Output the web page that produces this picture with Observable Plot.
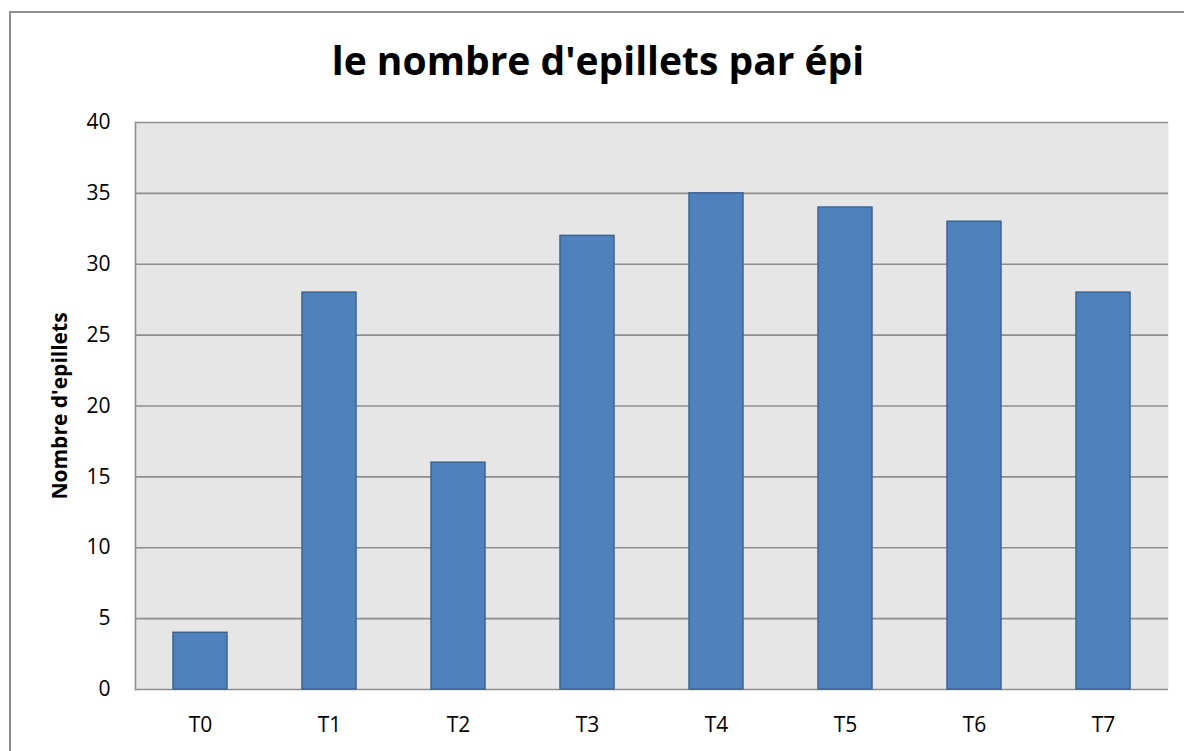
<!DOCTYPE html>
<html>
<head>
<meta charset="utf-8">
<script src="https://cdn.jsdelivr.net/npm/d3@7"></script>
<script src="https://cdn.jsdelivr.net/npm/@observablehq/plot@0.6"></script>
<style>
  html, body { margin: 0; padding: 0; background: #fff; overflow: hidden; }
  #wrap { position: relative; width: 1184px; height: 751px; overflow: hidden; }
  #border { position: absolute; left: 9px; top: 11px; width: 1200px; height: 800px;
            border: 2px solid #8e8e8e; box-sizing: border-box; }
  #title { position: absolute; left: 0; top: 40px; width: 1196px; text-align: center;
           font-family: "Open Sans", sans-serif; font-weight: bold; font-size: 39px;
           line-height: 39px; color: #000; }
  #chart { position: absolute; left: 0; top: 100px; }
</style>
</head>
<body>
<div id="wrap">
  <div id="border"></div>
  <div id="title">le nombre d'epillets par épi</div>
  <div id="chart"></div>
</div>
<script>
const categories = ["T0", "T1", "T2", "T3", "T4", "T5", "T6", "T7"];
const values = [4, 28, 16, 32, 35, 34, 33, 28];
const yTicks = [0, 5, 10, 15, 20, 25, 30, 35, 40];
const yLabel = "Nombre d'epillets";

const data = categories.map((c, i) => ({ cat: c, value: values[i] }));

const chart = Plot.plot({
  width: 1184,
  height: 651,
  marginTop: 22,
  marginLeft: 135,
  marginRight: 16,
  marginBottom: 62,
  style: { fontFamily: "Open Sans, sans-serif", fontSize: "21px", color: "#000", background: "transparent" },
  x: { domain: categories, paddingInner: 0.58, paddingOuter: 0.29, label: null },
  y: { domain: [0, 40], label: null },
  marks: [
    Plot.frame({ fill: "#e6e6e6", stroke: null }),
    Plot.ruleY(yTicks, { stroke: "#8e8e8e", strokeWidth: 1.6 }),
    Plot.frame({ anchor: "left", stroke: "#8e8e8e", strokeWidth: 1.6 }),
    Plot.barY(data, { x: "cat", y: "value", fill: "#4f81bd", stroke: "#3b6494", strokeWidth: 1.5 }),
    Plot.axisY({ ticks: yTicks, tickSize: 0, tickPadding: 25, label: null, fontSize: 21 }),
    Plot.axisX({ tickSize: 0, tickPadding: 28, label: null, fontSize: 21 }),
    Plot.text([yLabel], {
      frameAnchor: "left", textAnchor: "middle", dx: -75, rotate: -90,
      fontWeight: "bold", fontSize: 21, fill: "#000"
    })
  ]
});
document.getElementById("chart").appendChild(chart);
</script>
</body>
</html>
